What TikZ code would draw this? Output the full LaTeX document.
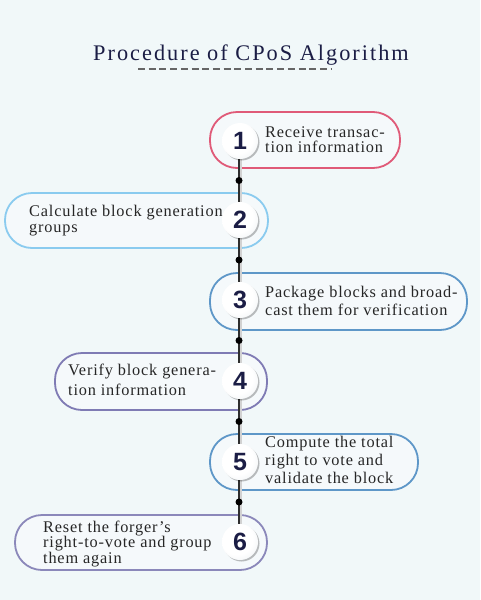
\documentclass[tikz,border=0pt]{standalone}
\usepackage{fontspec}
\setmainfont{Liberation Serif}[LetterSpace=5]
\newfontfamily\titlefont{Liberation Serif}[LetterSpace=9]
\newfontfamily\numfont{Liberation Sans}
\usetikzlibrary{shadows}

\definecolor{bg}{HTML}{F1F8F9}
\definecolor{pillbg}{HTML}{F5F9FB}
\definecolor{navy}{HTML}{1B1D45}
\definecolor{ink}{HTML}{262626}
\definecolor{spineclr}{HTML}{2E2E2E}
\definecolor{knobmid}{HTML}{E9EDF0}
\definecolor{knobrim}{HTML}{C9D1D6}
\definecolor{roseline}{HTML}{E05A78}
\definecolor{skyline}{HTML}{8ACBEF}
\definecolor{steelline}{HTML}{5E97C8}
\definecolor{violetline}{HTML}{7F7BB4}
\definecolor{lilacline}{HTML}{8B88BA}

\pgfdeclareradialshading{knob}{\pgfpoint{-8bp}{8bp}}{color(0bp)=(white); color(22bp)=(white); color(40bp)=(knobmid); color(50bp)=(knobrim)}

\tikzset{
  pill/.style={rectangle, rounded corners=27pt, line width=1.8pt, fill=pillbg, inner sep=0pt},
  knob/.style={circle, minimum size=36pt, inner sep=0pt, shade, shading=knob,
    drop shadow={shadow xshift=1.5pt, shadow yshift=-1.5pt, opacity=.25, fill=black},
    font=\numfont\bfseries\fontsize{25}{25}\selectfont, text=navy},
  dot/.style={circle, fill=black, inner sep=0pt, minimum size=7pt},
  spine/.style={line width=1.6pt, draw=spineclr},
  lbl/.style={anchor=west, align=left, inner sep=0pt, text=ink, font=\fontsize{16.3}{#1}\selectfont},
}

\begin{document}
\begin{tikzpicture}[x=1pt, y=-1pt]
  \fill[bg] (0,0) rectangle (480,600);
  \useasboundingbox (0,0) rectangle (480,600);

  % title
  \node[anchor=base, inner sep=0pt, text=navy, font=\titlefont\fontsize{22.3}{22}\selectfont] (title) at (251,60) {Procedure of CPoS Algorithm};
  \draw[gray!80!black, line width=1.1pt, dash pattern=on 7pt off 3.7pt] (138,69) -- (332,69);

  % step boxes
  \node[pill, draw=roseline,   minimum width=190pt, minimum height=56pt] (p1) at (305,140)   {};
  \node[pill, draw=skyline,    minimum width=263pt, minimum height=55pt] (p2) at (136.5,220.5) {};
  \node[pill, draw=steelline,  minimum width=257pt, minimum height=57pt] (p3) at (338.5,301.5) {};
  \node[pill, draw=violetline, minimum width=212pt, minimum height=57pt] (p4) at (161,381.5) {};
  \node[pill, draw=steelline,  minimum width=208pt, minimum height=56pt] (p5) at (314,462)   {};
  \node[pill, draw=lilacline,  minimum width=252pt, minimum height=55pt] (p6) at (141,542.5) {};

  \node[lbl=15] (t1) at (265,140) {Receive transac-\\tion information};
  \node[lbl=16] (t2) at (29,221)  {Calculate block generation\\groups};
  \node[lbl=18] (t3) at (265,301) {Package blocks and broad-\\cast them for verification};
  \node[lbl=20] (t4) at (68,380)  {Verify block genera-\\tion information};
  \node[lbl=18] (t5) at (265,460) {Compute the total\\right to vote and\\validate the block};
  \node[lbl=14.5] (t6) at (43,544)  {Reset the forger's\\right-to-vote and group\\them again};

  % spine with dots and numbered knobs
  \foreach \i/\y in {1/141,2/220,3/300,4/381,5/462,6/542}
    \coordinate (c\i) at (239,\y);
  \draw[line width=3pt, draw=gray!35, transform canvas={xshift=1.8pt}] (c1) -- (c6);
  \draw[spine] (c1) -- (c6);
  \foreach \i/\j in {1/2,2/3,3/4,4/5,5/6}
    \path (c\i) -- (c\j) node[dot, midway] (d\i) {};
  \foreach \i in {1,...,6}
    \node[knob] (n\i) at ([xshift=1pt]c\i) {\i};
\end{tikzpicture}
\end{document}
